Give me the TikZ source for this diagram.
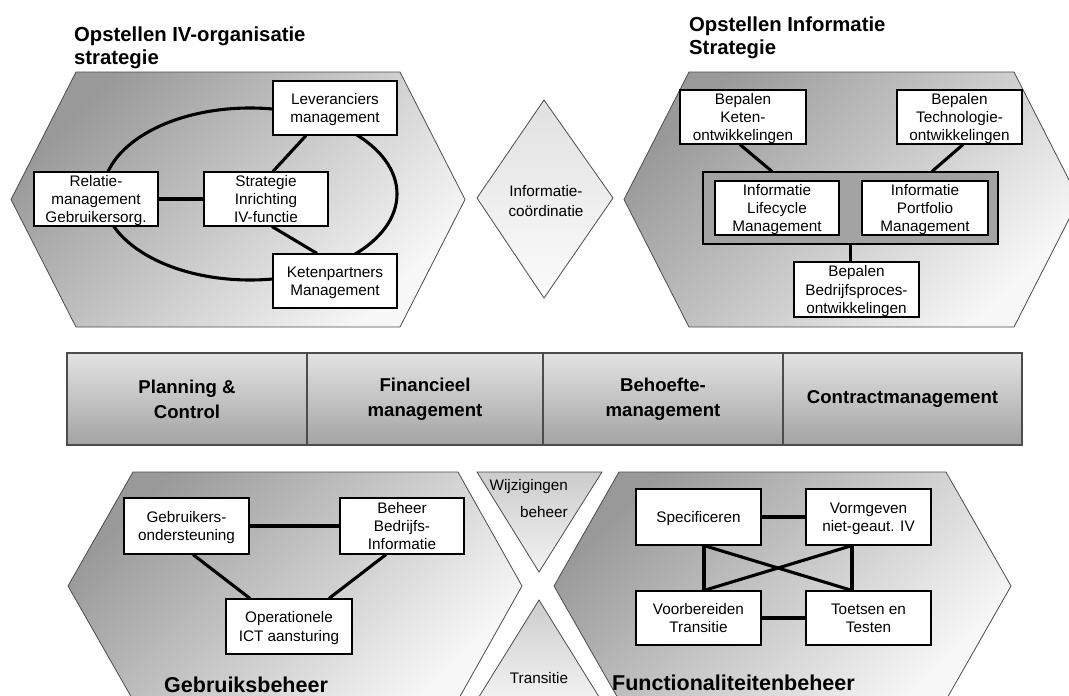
\documentclass[tikz,border=0pt]{standalone}
\usepackage{fontspec}
\setmainfont{Liberation Sans}
\definecolor{hexdark}{gray}{0.60}
\definecolor{hexlight}{gray}{0.97}
\definecolor{grpgray}{gray}{0.64}
\definecolor{bartop}{gray}{0.89}
\definecolor{barbot}{gray}{0.64}
\definecolor{edgegray}{gray}{0.30}
\definecolor{tritop}{gray}{0.80}
\definecolor{tribot}{gray}{0.95}
\begin{document}
\begin{tikzpicture}[x=1pt,y=-1pt,
  hexa/.style={draw=edgegray, line width=0.8pt, top color=hexdark, bottom color=hexlight, shading angle=45},
  box/.style={draw=black, line width=1.1pt, fill=white, align=center, inner sep=0pt, text depth=0pt,
    minimum width=124pt, minimum height=54pt, font=\fontsize{15.3}{18.2}\selectfont},
  conn/.style={line width=3.1pt, black},
  titletext/.style={font=\fontsize{20.3}{22.5}\selectfont\bfseries, align=left, inner sep=0pt, anchor=base west},
  bottitle/.style={font=\fontsize{21.5}{24}\selectfont\bfseries, inner sep=0pt, anchor=base west},
  cell/.style={draw=edgegray, line width=1.1pt, top color=bartop, bottom color=barbot, align=center,
    inner sep=0pt, minimum height=92pt, font=\fontsize{18.6}{25}\selectfont\bfseries},
  plaintext/.style={inner sep=0pt, align=center, font=\fontsize{15.3}{20}\selectfont}
]
\useasboundingbox (0,0) rectangle (1069,696);
\clip (0,0) rectangle (1069,696);
\fill[white] (0,0) rectangle (1069,696);

% ---------- top-left hexagon ----------
\shade[hexa] (76,72) -- (400,72) -- (465,199.5) -- (400,327) -- (76,327) -- (11,199.5) -- cycle;
\node[titletext] (t1) at (74,64) {Opstellen IV-organisatie\\strategie};
\draw[conn] (250,194) ellipse [x radius=147, y radius=86];
\node[box] (lev) at (335,108) {Leveranciers\\management};
\node[box] (rel) at (96,199) {Relatie-\\management\\Gebruikersorg.};
\node[box] (strat) at (266,199) {Strategie\\Inrichting\\IV-functie};
\node[box] (ket) at (335,281) {Ketenpartners\\Management};
\draw[conn] (rel.east) -- (strat.west);
\draw[conn] ([xshift=7pt]strat.north) -- ([xshift=-29pt]lev.south);
\draw[conn] ([xshift=6pt]strat.south) -- ([xshift=-18pt]ket.north);

% ---------- diamond ----------
\shade[draw=edgegray, line width=0.8pt, top color=gray!24, bottom color=gray!3]
  (544,100) -- (613,198) -- (544,298) -- (477,198) -- cycle;
\node[plaintext] (ic) at (546,201) {Informatie-\\coördinatie};

% ---------- top-right hexagon ----------
\shade[hexa] (689,72) -- (1014,72) -- (1079,199.5) -- (1014,327) -- (689,327) -- (624,199.5) -- cycle;
\node[titletext] (t2) at (689,54) {Opstellen Informatie\\Strategie};
\node[box, minimum width=126pt] (bket) at (743,117) {Bepalen\\Keten-\\ontwikkelingen};
\node[box, minimum width=125pt] (btech) at (959.5,117) {Bepalen\\Technologie-\\ontwikkelingen};
\node[draw=black, line width=1.1pt, fill=grpgray, minimum width=295pt, minimum height=72pt, inner sep=0pt] (grp) at (850.5,208) {};
\node[box] (ilm) at (777,208) {Informatie\\Lifecycle\\Management};
\node[box, minimum width=126pt] (ipm) at (925,208) {Informatie\\Portfolio\\Management};
\node[box, minimum width=125pt, minimum height=55pt] (bbed) at (856.5,289.5) {Bepalen\\Bedrijfsproces-\\ontwikkelingen};
\draw[conn] ([xshift=-3pt]bket.south) -- ([xshift=-78.5pt]grp.north);
\draw[conn] ([xshift=3.5pt]btech.south) -- ([xshift=81.5pt]grp.north);
\draw[conn] (grp.south) -- (grp.south |- bbed.north);

% ---------- middle bar ----------
\node[cell, minimum width=240pt] (pc) at (187,399) {Planning \&\\Control};
\node[cell, minimum width=236pt] (fm) at (425,399) {Financieel\\management};
\node[cell, minimum width=240pt] (bm) at (663,399) {Behoefte-\\management};
\node[cell, minimum width=239pt] (cm) at (902.5,399) {Contractmanagement};

% ---------- bottom-left hexagon ----------
\shade[hexa] (133,472) -- (458,472) -- (522,586) -- (458,700) -- (133,700) -- (68,586) -- cycle;
\node[box, minimum width=125pt, minimum height=56pt] (gebr) at (186.5,526) {Gebruikers-\\ondersteuning};
\node[box, minimum height=56pt] (beh) at (402,526) {Beheer\\Bedrijfs-\\Informatie};
\node[box, minimum width=126pt, minimum height=55pt] (oper) at (289,626.5) {Operationele\\ICT aansturing};
\draw[conn] (gebr.east) -- (beh.west);
\draw[conn] ([xshift=6.5pt]gebr.south) -- ([xshift=-39pt]oper.north);
\draw[conn] ([xshift=-16pt]beh.south) -- ([xshift=40pt]oper.north);
\node[bottitle] (t3) at (164,692) {Gebruiksbeheer};

% ---------- central triangles ----------
\shade[draw=edgegray, line width=0.8pt, top color=tritop, bottom color=tribot]
  (477,472) -- (602,472) -- (539,572) -- cycle;
\node[inner sep=0pt, align=right, anchor=east, font=\fontsize{15.3}{18}\selectfont] (wij) at (568,499) {Wijzigingen\\[9pt]beheer};
\shade[draw=edgegray, line width=0.8pt, top color=tritop, bottom color=tribot]
  (539,600) -- (601,700) -- (477,700) -- cycle;
\node[plaintext] (tra) at (539,678) {Transitie};

% ---------- bottom-right hexagon ----------
\shade[hexa] (619,472) -- (946,472) -- (1011,586) -- (946,700) -- (619,700) -- (554,586) -- cycle;
\node[box, minimum width=125pt, minimum height=56pt] (spec) at (698.5,517) {Specificeren};
\node[box, minimum width=125pt, minimum height=56pt] (vorm) at (868.5,517) {Vormgeven\\niet-geaut. IV};
\node[box, minimum width=125pt] (voorb) at (698.5,618) {Voorbereiden\\Transitie};
\node[box, minimum width=125pt] (toets) at (868.5,618) {Toetsen en\\Testen};
\draw[conn] (spec.east) -- (vorm.west);
\draw[conn] (voorb.east) -- (toets.west);
\draw[conn] ([xshift=5.5pt]spec.south) -- ([xshift=5.5pt]voorb.north);
\draw[conn] ([xshift=-16.5pt]vorm.south) -- ([xshift=-16.5pt]toets.north);
\draw[conn] ([xshift=5.5pt]spec.south) -- ([xshift=-16.5pt]toets.north);
\draw[conn] ([xshift=-16.5pt]vorm.south) -- ([xshift=5.5pt]voorb.north);
\node[bottitle] (t4) at (612,690) {Functionaliteitenbeheer};
\end{tikzpicture}
\end{document}
